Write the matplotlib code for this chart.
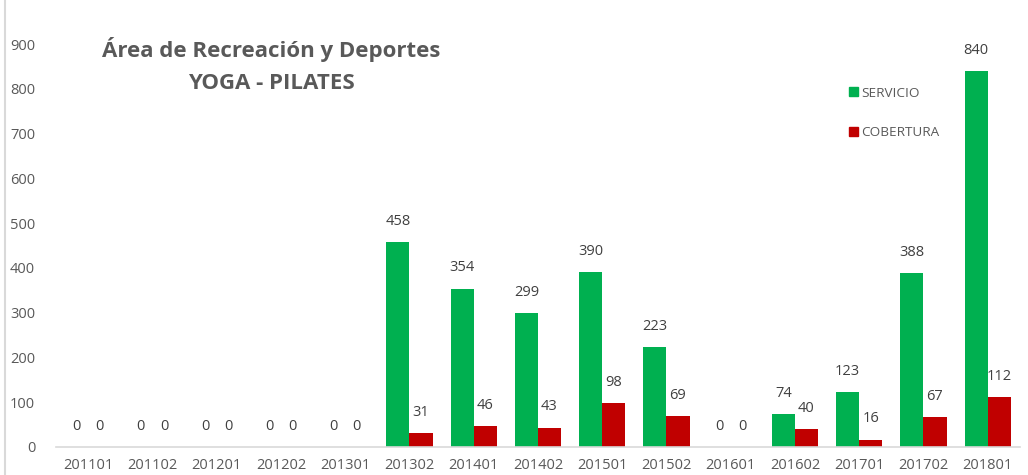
import matplotlib
matplotlib.use("Agg")
import matplotlib.pyplot as plt
import numpy as np
from matplotlib.patches import Rectangle
from matplotlib.lines import Line2D

# data
periodos = ["201101", "201102", "201201", "201202", "201301", "201302", "201401",
            "201402", "201501", "201502", "201601", "201602", "201701", "201702", "201801"]
servicio = [0, 0, 0, 0, 0, 458, 354, 299, 390, 223, 0, 74, 123, 388, 840]
cobertura = [0, 0, 0, 0, 0, 31, 46, 43, 98, 69, 0, 40, 16, 67, 112]
yticks = [0, 100, 200, 300, 400, 500, 600, 700, 800, 900]

plt.rcParams['font.family'] = ['Open Sans', 'DejaVu Sans']
GRIS = '#595959'
VERDE = '#00B050'
ROJO = '#C00000'

fig = plt.figure(figsize=(10.28, 4.75), dpi=100)
ax = fig.add_axes([0.0545, 0.059, 0.9375, 0.848])

x = np.arange(len(periodos))
w = 0.36
b1 = ax.bar(x - w / 2, servicio, width=w, color=VERDE, label='SERVICIO')
b2 = ax.bar(x + w / 2, cobertura, width=w, color=ROJO, label='COBERTURA')

for bars, vals in ((b1, servicio), (b2, cobertura)):
    for r, v in zip(bars, vals):
        ax.annotate(str(v), (r.get_x() + r.get_width() / 2, v), xytext=(0, 15),
                    textcoords='offset points', ha='center', va='center',
                    fontsize=10.5, color='#404040')

ax.set_xlim(-0.5, len(periodos) - 0.5)
ax.set_ylim(0, 900)
ax.set_yticks(yticks)
ax.set_xticks(x)
ax.set_xticklabels(periodos)
ax.tick_params(axis='both', length=0, labelsize=10.5, colors=GRIS)
ax.tick_params(axis='y', pad=15)
ax.tick_params(axis='x', pad=8)
for s in ('top', 'right', 'left'):
    ax.spines[s].set_visible(False)
ax.spines['bottom'].set_color('#D9D9D9')
ax.spines['bottom'].set_linewidth(1.2)

# chart title inside the plot area
fig.text(0.264, 0.895, 'Área de Recreación y Deportes', ha='center', va='center',
         fontsize=16, fontweight='bold', color=GRIS)
fig.text(0.264, 0.825, 'YOGA - PILATES', ha='center', va='center',
         fontsize=16, fontweight='bold', color=GRIS)

# legend, stacked with big gap like the original
handles = [Rectangle((0, 0), 1, 1, color=VERDE), Rectangle((0, 0), 1, 1, color=ROJO)]
ax.legend(handles, ['SERVICIO', 'COBERTURA'], loc='upper left',
          bbox_to_anchor=(0.81, 0.925), frameon=False, fontsize=9.7,
          labelcolor=GRIS, handlelength=0.65, handleheight=0.65,
          handletextpad=0.3, labelspacing=2.0)

# thin frame line at the left like the source image
fig.add_artist(Line2D([0.005, 0.005], [0.0, 1.0], color='#D9D9D9', lw=1.5,
                      transform=fig.transFigure))

fig.savefig('out.png', dpi=100)
